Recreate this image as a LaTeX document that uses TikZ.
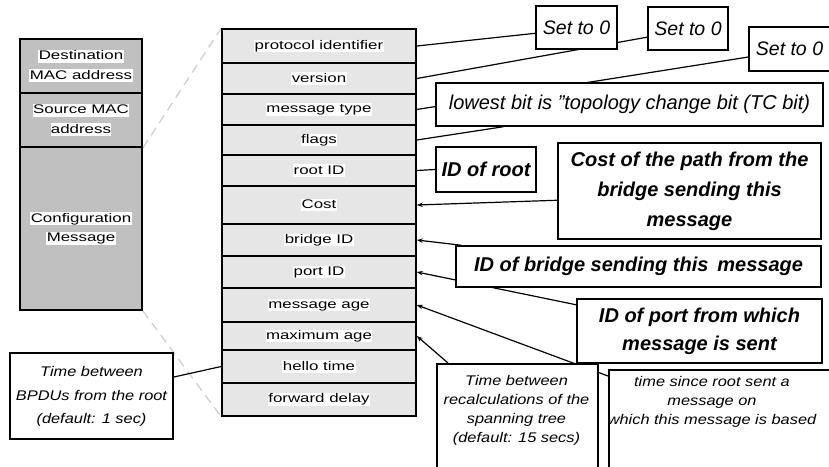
\documentclass[tikz,border=0pt]{standalone}
\usepackage{fontspec}
\setmainfont{Liberation Sans}
\newfontfamily\widesans[FakeStretch=1.35]{Liberation Sans}
\newfontfamily\smallsans[FakeStretch=1.17]{Liberation Sans}
\usetikzlibrary{calc,arrows.meta}
\pgfdeclarelayer{bg}
\pgfsetlayers{bg,main}
\definecolor{fieldgray}{RGB}{230,230,230}
\definecolor{framegray}{RGB}{192,192,192}
\definecolor{dashgray}{RGB}{208,208,208}
\newcommand\hw[1]{{\setlength\fboxsep{0.4pt}\colorbox{white}{\vrule height 9.5pt depth 2.5pt width 0pt #1}}}
\tikzset{
  field/.style={draw, line width=1.6pt, fill=fieldgray, minimum width=194pt, inner sep=0pt,
    font=\widesans\fontsize{12.5}{15}\selectfont},
  framebox/.style={draw, line width=1.8pt, fill=framegray, minimum width=122pt, inner sep=0pt,
    align=center, font=\widesans\fontsize{12.5}{19.5}\selectfont},
  callbox/.style={draw, line width=1.5pt, fill=white, inner sep=0pt, align=center},
  plainit/.style={font=\fontsize{19.5}{23}\selectfont\itshape},
  boldit/.style={font=\fontsize{20}{30}\selectfont\bfseries\itshape},
  smallit/.style={font=\smallsans\fontsize{14}{19}\selectfont\itshape, align=center, inner sep=0pt},
  conn/.style={line width=1.2pt},
  arr/.style={line width=1.2pt, -{Stealth[length=6pt,width=4.5pt]}},
  dashline/.style={draw=dashgray, line width=1.3pt, dash pattern=on 9pt off 6pt}
}
\begin{document}
\begin{tikzpicture}[x=1pt,y=-1pt]
\useasboundingbox (0,0) rectangle (829,466);
\clip (0,0) rectangle (829,466);
% left frame
\node[framebox, minimum height=54pt] (lf1) at (81,66) {\hw{Destination}\\\hw{MAC address}};
\node[framebox, minimum height=54pt] (lf2) at (81,120) {\hw{Source MAC}\\\hw{address}};
\node[framebox, minimum height=163pt] (lf3) at (81,228.5) {\hw{Configuration}\\\hw{Message}};
% fields
\node[field, minimum height=34pt] (r1) at (319,46) {\hw{protocol identifier}};
\node[field, minimum height=31pt] (r2) at (319,78.5) {\hw{version}};
\node[field, minimum height=31pt] (r3) at (319,109.5) {\hw{message type}};
\node[field, minimum height=30pt] (r4) at (319,140) {\hw{flags}};
\node[field, minimum height=31pt] (r5) at (319,170.5) {\hw{root ID}};
\node[field, minimum height=38pt] (r6) at (319,205) {\hw{Cost}};
\node[field, minimum height=32pt] (r7) at (319,240) {\hw{bridge ID}};
\node[field, minimum height=32pt] (r8) at (319,272) {\hw{port ID}};
\node[field, minimum height=34pt] (r9) at (319,305) {\hw{message age}};
\node[field, minimum height=28pt] (r10) at (319,336) {\hw{maximum age}};
\node[field, minimum height=33pt] (r11) at (319,366.5) {\hw{hello time}};
\node[field, minimum height=33pt] (r12) at (319,399.5) {\hw{forward delay}};
% callouts
\node[callbox, plainit, minimum width=81pt, minimum height=43pt] (s1) at (576.5,27.5) {Set to 0};
\node[callbox, plainit, minimum width=80pt, minimum height=43pt] (s2) at (688,28.5) {Set to 0};
\node[callbox, plainit, minimum width=81pt, minimum height=44pt] (s3) at (789.5,49) {Set to 0};
\node[callbox, plainit, minimum width=387pt, minimum height=43pt, font=\fontsize{20}{24}\selectfont\itshape] (lowb) at (629.5,104.5) {lowest bit is ''topology change bit (TC bit)};
\node[callbox, boldit, minimum width=100pt, minimum height=45pt] (rt) at (486,169.5) {ID of root};
\node[callbox, boldit, minimum width=263pt, minimum height=96pt] (cb) at (689.5,191) {Cost of the path from the\\bridge sending this\\message};
\node[callbox, boldit, minimum width=365pt, minimum height=41pt] (bb) at (638.5,266.5) {ID of bridge sending this \,message};
\node[callbox, boldit, minimum width=245pt, minimum height=64pt, font=\fontsize{20}{28}\selectfont\bfseries\itshape] (pb) at (699.5,331) {ID of port from which\\message is sent};
\node[callbox, minimum width=161pt, minimum height=125pt, anchor=north west] (rc) at (436,363) {};
\node[smallit] (rct) at (516.5,410) {Time between\\recalculations of the\\spanning tree\\(default: 15 secs)};
\node[callbox, minimum width=227pt, minimum height=125pt, anchor=north west] (ts) at (608,369) {};
\node[smallit] (tst) at (712,402) {time since root sent a\\message on\\which this message is based};
\node[callbox, minimum width=163pt, minimum height=86pt] (bp) at (91.5,396) {};
\node[smallit, font=\smallsans\fontsize{14}{23.5}\selectfont\itshape] (bpt) at (91.5,396.5) {Time between\\BPDUs from the root\\(default: 1 sec)};
% connectors
\begin{pgfonlayer}{bg}
\draw[dashline] (lf2.south east) -- (r1.north west);
\draw[dashline] (lf3.south east) -- (r12.south west);
\draw[conn] (r1.east) -- (s1.188);
\draw[conn] (r2.east) -- (s2.192);
\draw[conn] (r3.east) -- (s3.191);
\draw[conn] (r4.east) -- (lowb.190);
\draw[conn] (r5.east) -- (rt.west);
\draw[arr] (cb.184) -- (r6.east);
\draw[arr] ($(bb.north west)+(6,0)$) -- (r7.east);
\draw[arr] (pb.168) -- (r8.east);
\draw[arr] ($(ts.north west)+(0,7)$) -- (r9.east);
\draw[arr] ($(rc.north west)+(12,0)$) -- (r10.east);
\draw[conn] (bp.13) -- (r11.west);
\end{pgfonlayer}
\end{tikzpicture}
\end{document}
